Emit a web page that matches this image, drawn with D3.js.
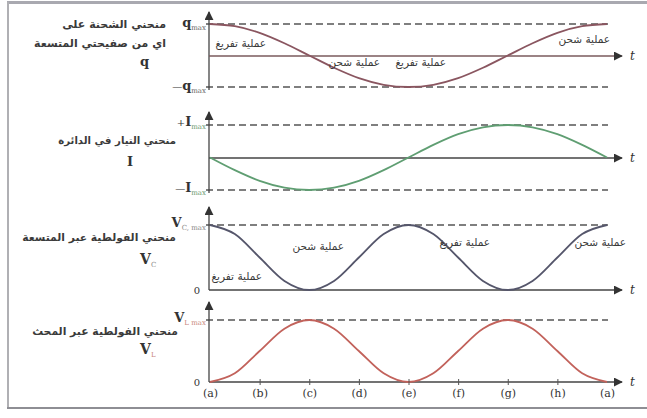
<!DOCTYPE html>
<html>
<head>
<meta charset="utf-8">
<script src="https://cdn.jsdelivr.net/npm/d3@7"></script>
<style>
  body { margin: 0; background: #fff; }
  svg { display: block; }
  .ar { font-family: "DejaVu Sans", sans-serif; fill: #3a3a3a; }
  .sym { font-family: "DejaVu Serif", "Liberation Serif", serif; fill: #333; }
</style>
</head>
<body>
<div id="chart"></div>
<script>
// phase labels along the time axis
var phases = ["(a)", "(b)", "(c)", "(d)", "(e)", "(f)", "(g)", "(h)", "(a)"];
// sample instants, every half division (0 = (a), 8 = (a) again)
var tSteps = [0, 0.5, 1, 1.5, 2, 2.5, 3, 3.5, 4, 4.5, 5, 5.5, 6, 6.5, 7, 7.5, 8];
// values (normalised to the max)
var charge  = [1, 0.93, 0.72, 0.39, 0, -0.39, -0.72, -0.93, -1, -0.93, -0.72, -0.39, 0, 0.39, 0.72, 0.93, 1];
var current = [0, -0.39, -0.72, -0.93, -1, -0.93, -0.72, -0.39, 0, 0.39, 0.72, 0.93, 1, 0.93, 0.72, 0.39, 0];
var vCap    = [1, 0.86, 0.5, 0.14, 0, 0.14, 0.5, 0.86, 1, 0.86, 0.5, 0.14, 0, 0.14, 0.5, 0.86, 1];
var vInd    = [0, 0.14, 0.5, 0.86, 1, 0.86, 0.5, 0.14, 0, 0.14, 0.5, 0.86, 1, 0.86, 0.5, 0.14, 0];

var svgWidth = 647;
var svgHeight = 418;
var x0 = 209;

var svg = d3.select("#chart")
  .append("svg")
  .attr("width", svgWidth)
  .attr("height", svgHeight);

var defs = svg.append("defs");
defs.append("marker")
  .attr("id", "arrow")
  .attr("viewBox", "0 0 10 10")
  .attr("refX", 9).attr("refY", 5)
  .attr("markerWidth", 9).attr("markerHeight", 9)
  .attr("markerUnits", "userSpaceOnUse")
  .attr("orient", "auto")
  .append("path")
  .attr("d", "M0,0 L10,5 L0,10 z")
  .attr("fill", "#333");

// frame
svg.append("line").attr("x1", 7).attr("x2", 647).attr("y1", 2.5).attr("y2", 2.5)
  .attr("stroke", "#a9a9b0").attr("stroke-width", 3);
svg.append("line").attr("x1", 8).attr("x2", 8).attr("y1", 2).attr("y2", 408)
  .attr("stroke", "#b0b0b4").attr("stroke-width", 2);
svg.append("line").attr("x1", 7).attr("x2", 647).attr("y1", 408).attr("y2", 408)
  .attr("stroke", "#8e8e94").attr("stroke-width", 2);

var x = d3.scaleLinear().domain([0, 8]).range([210, 607]);

// one panel per quantity
var panels = [
  { values: charge,  domain: [-1, 1], range: [87, 24],   top: 12,  bottom: 90,  axisY: 56,  color: "#8a5660", axisColor: "#7a5a5c" },
  { values: current, domain: [-1, 1], range: [190, 125], top: 112, bottom: 193, axisY: 158, color: "#5f9e72", axisColor: "#444" },
  { values: vCap,    domain: [0, 1],  range: [290, 225], top: 207, bottom: 290, axisY: 290, color: "#55566b", axisColor: "#444" },
  { values: vInd,    domain: [0, 1],  range: [382, 320], top: 302, bottom: 382, axisY: 382, color: "#c2625b", axisColor: "#444" }
];

panels.forEach(function(p) {
  var y = d3.scaleLinear().domain(p.domain).range(p.range);
  var g = svg.append("g");

  // dashed max / min guides
  var guides = p.domain[0] < 0 ? [p.domain[0], p.domain[1]] : [p.domain[1]];
  guides.forEach(function(v) {
    g.append("line")
      .attr("x1", x0 - 3).attr("x2", 608)
      .attr("y1", y(v)).attr("y2", y(v))
      .attr("stroke", "#555").attr("stroke-width", 1.3)
      .attr("stroke-dasharray", "7,4");
  });

  // vertical axis
  g.append("line")
    .attr("x1", x0).attr("x2", x0)
    .attr("y1", p.bottom).attr("y2", p.top)
    .attr("stroke", "#444").attr("stroke-width", 1.3)
    .attr("marker-end", "url(#arrow)");

  // time axis
  g.append("line")
    .attr("x1", x0).attr("x2", 622)
    .attr("y1", p.axisY).attr("y2", p.axisY)
    .attr("stroke", p.axisColor).attr("stroke-width", 1.6)
    .attr("marker-end", "url(#arrow)");

  g.append("text")
    .attr("class", "sym")
    .attr("x", 630).attr("y", p.axisY + 4)
    .attr("font-size", 12).attr("font-style", "italic")
    .text("t");

  var line = d3.line()
    .x(function(d, i) { return x(tSteps[i]); })
    .y(function(d) { return y(d); })
    .curve(d3.curveMonotoneX);

  g.append("path")
    .datum(p.values)
    .attr("d", line)
    .attr("fill", "none")
    .attr("stroke", p.color)
    .attr("stroke-width", 1.8);
});

// ticks and phase labels on the bottom axis
svg.append("g")
  .attr("transform", "translate(0,379)")
  .call(d3.axisBottom(x).tickValues(d3.range(1, 8)).tickSize(6).tickFormat(""))
  .call(function(g) { g.select(".domain").remove(); })
  .selectAll("line").attr("stroke", "#555");

svg.append("g")
  .attr("transform", "translate(0,386)")
  .call(d3.axisBottom(x).tickValues(d3.range(0, 9)).tickSize(0)
    .tickFormat(function(d) { return phases[d]; }))
  .call(function(g) { g.select(".domain").remove(); })
  .selectAll("text")
  .attr("font-family", "DejaVu Serif, serif")
  .attr("font-size", 11)
  .attr("fill", "#333");

// y-level labels with subscripts
function levelLabel(xr, yy, pre, main, sub, subColor) {
  var t = svg.append("text").attr("class", "sym")
    .attr("x", xr).attr("y", yy).attr("text-anchor", "end");
  if (pre) t.append("tspan").attr("font-size", 10).text(pre);
  t.append("tspan").attr("font-size", 13).attr("font-weight", "bold").text(main);
  t.append("tspan").attr("font-size", 7).attr("dy", 3).attr("fill", subColor).text(sub);
}
levelLabel(206, 27, "", "q", "max", "#666");
levelLabel(206, 90, "—", "q", "max", "#666");
levelLabel(206, 126, "+", "I", "max", "#6a9a70");
levelLabel(206, 192, "—", "I", "max", "#6a9a70");
levelLabel(206, 227, "", "V", "C, max", "#888");
levelLabel(206, 322, "", "V", "L max", "#c98a80");

svg.append("text").attr("class", "sym").attr("x", 200).attr("y", 294)
  .attr("font-size", 10).attr("text-anchor", "end").text("0");
svg.append("text").attr("class", "sym").attr("x", 200).attr("y", 386)
  .attr("font-size", 10).attr("text-anchor", "end").attr("fill", "#c2625b").text("0");

// Arabic titles, right edge at xr, font size fitted to the width seen in the picture
function arText(xr, yy, s, width) {
  var t = svg.append("text").attr("class", "ar")
    .attr("x", xr).attr("y", yy)
    .attr("direction", "rtl")
    .attr("text-anchor", "start")
    .attr("font-size", 12)
    .attr("font-weight", "bold")
    .text(s);
  var w = t.node().getComputedTextLength();
  if (w > 0) t.attr("font-size", Math.min(14, 12 * width / w));
  return t;
}
arText(166, 28, "منحني الشحنة على", 104);
arText(166, 47, "اي من صفيحتي المتسعة", 132);
svg.append("text").attr("class", "sym").attr("x", 140).attr("y", 66)
  .attr("font-size", 13).attr("font-weight", "bold").text("q");

arText(176, 144, "منحني التيار في الدائرة", 118);
svg.append("text").attr("class", "sym").attr("x", 127).attr("y", 166)
  .attr("font-size", 13).attr("font-weight", "bold").text("I");

arText(176, 241, "منحني الفولطية عبر المتسعة", 154);
svg.append("text").attr("class", "sym").attr("x", 140).attr("y", 264)
  .attr("font-size", 14).attr("font-weight", "bold").text("V").append("tspan")
  .attr("font-size", 7).attr("dy", 3).attr("fill", "#888").attr("font-weight", "normal").text("C");

arText(178, 335, "منحني الفولطية عبر المحث", 146);
svg.append("text").attr("class", "sym").attr("x", 140).attr("y", 354)
  .attr("font-size", 14).attr("font-weight", "bold").text("V").append("tspan")
  .attr("font-size", 7).attr("dy", 3).attr("fill", "#c98a80").attr("font-weight", "normal").text("L");

// process annotations (right edge position)
var discharge = "عملية تفريغ";
var charging = "عملية شحن";
function note(xr, yy, s) {
  svg.append("text").attr("class", "ar")
    .attr("x", xr).attr("y", yy)
    .attr("direction", "rtl")
    .attr("text-anchor", "start")
    .attr("font-size", 10.5)
    .attr("fill", "#444")
    .text(s);
}
note(266, 47, discharge);
note(380, 66, charging);
note(446, 66, discharge);
note(610, 43, charging);
note(262, 280, discharge);
note(344, 250, charging);
note(490, 246, discharge);
note(626, 246, charging);
</script>
</body>
</html>
